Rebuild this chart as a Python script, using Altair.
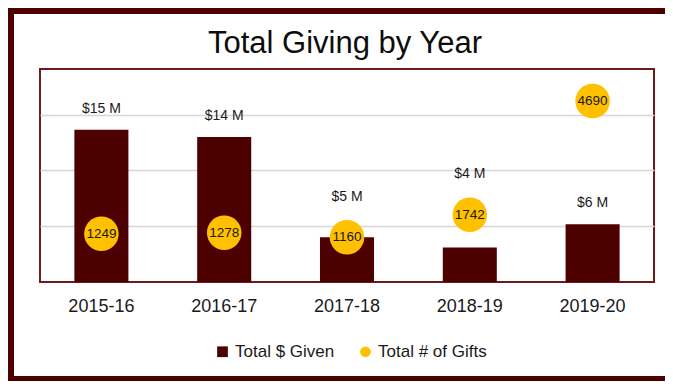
import altair as alt
import pandas as pd

# ---- data ----
years = ["2015-16", "2016-17", "2017-18", "2018-19", "2019-20"]
given_musd = [15.0, 14.3, 4.4, 3.4, 5.7]          # bar heights, $ millions
given_labels = ["$15 M", "$14 M", "$5 M", "$4 M", "$6 M"]
gift_counts = [1249, 1278, 1160, 1742, 4690]
series_names = ["Total $ Given", "Total # of Gifts"]

# ---- layout / style ----
PLOT_W, PLOT_H = 614, 213
GIVEN_MAX = 21.0
GIFTS_MAX = 5520.0
GRID_VALUES = [5.5, 11.0, 16.5]
CIRCLE_D = 39
MAROON = "#4D0000"
GOLD = "#FFC000"
FRAME = "#6E1A1A"
TEXT = "#1A1A1A"
SANS = "Liberation Sans, Arial"

# place value labels above the bar, or above the circle when they would collide
px_given = PLOT_H / GIVEN_MAX
px_gifts = PLOT_H / GIFTS_MAX
GAP = 21
r = CIRCLE_D / 2
label_pos = []
for v, g in zip(given_musd, gift_counts):
    lab = v * px_given + GAP
    c = g * px_gifts
    if abs(lab - c) < r + 8:
        lab = c + r + GAP
    label_pos.append(lab / px_given)

df = pd.DataFrame({
    "year": years,
    "given": given_musd,
    "given_label": given_labels,
    "gifts": gift_counts,
    "gift_label": [str(g) for g in gift_counts],
    "label_y": label_pos,
    "s_given": series_names[0],
    "s_gifts": series_names[1],
})

x_enc = alt.X(
    "year:N", sort=years, title=None,
    scale=alt.Scale(paddingInner=0.56, paddingOuter=0.28),
    axis=alt.Axis(labelFont=SANS, labelFontSize=18, labelColor=TEXT,
                  labelPadding=15, domain=False, ticks=False, labelAngle=0,
                  grid=False),
)
color_scale = alt.Scale(domain=series_names, range=[MAROON, GOLD])
shape_scale = alt.Scale(domain=series_names, range=["square", "circle"])
given_scale = alt.Scale(domain=[0, GIVEN_MAX], nice=False, zero=True)
gifts_scale = alt.Scale(domain=[0, GIFTS_MAX], nice=False, zero=True)

legend = alt.Legend(
    title=None, orient="none", legendX=174, legendY=274, direction="horizontal",
    symbolSize=115, labelFont=SANS, labelFontSize=17, labelColor=TEXT,
    columnPadding=22, labelOffset=4, padding=0, symbolStrokeWidth=0,
)

base = alt.Chart(df)

bars = base.mark_bar(color=MAROON).encode(
    x=x_enc,
    y=alt.Y("given:Q", scale=given_scale,
            axis=alt.Axis(values=GRID_VALUES, labels=False, ticks=False,
                          domain=False, grid=True, gridColor="#D6D6D6",
                          gridWidth=1.5, title=None)),
    color=alt.Color("s_given:N", scale=color_scale, legend=legend),
)

bar_labels = base.mark_text(font=SANS, fontSize=14, color=TEXT,
                            baseline="middle").encode(
    x=x_enc,
    y=alt.Y("label_y:Q", scale=given_scale, axis=None),
    text="given_label:N",
)

circles = base.mark_point(filled=True, size=3.1416 * r * r, opacity=1,
                          strokeWidth=0).encode(
    x=x_enc,
    y=alt.Y("gifts:Q", scale=gifts_scale, axis=None),
    color=alt.Color("s_gifts:N", scale=color_scale, legend=legend),
    shape=alt.Shape("s_gifts:N", scale=shape_scale, legend=legend),
)

circle_labels = base.mark_text(font=SANS, fontSize=13.5, color=TEXT,
                               baseline="middle").encode(
    x=x_enc,
    y=alt.Y("gifts:Q", scale=gifts_scale, axis=None),
    text="gift_label:N",
)

frame_src = alt.Chart(alt.Data(values=[{"k": 0}]))
left_border = frame_src.mark_rule(color=MAROON, strokeWidth=6).encode(
    x=alt.value(-29), y=alt.value(-61), y2=alt.value(312))
top_border = frame_src.mark_rule(color=MAROON, strokeWidth=6).encode(
    x=alt.value(-32), x2=alt.value(625), y=alt.value(-58))
bottom_border = frame_src.mark_rule(color=MAROON, strokeWidth=5).encode(
    x=alt.value(-32), x2=alt.value(625), y=alt.value(309.5))

chart = alt.layer(
    bars, bar_labels, circles, circle_labels,
    left_border, top_border, bottom_border,
).resolve_scale(y="independent").properties(
    width=PLOT_W, height=PLOT_H,
    title=alt.TitleParams("Total Giving by Year", font=SANS, fontSize=31,
                          fontWeight="normal", color="#0D0D0D", offset=9,
                          anchor="middle", dx=-2, dy=64),
    autosize=alt.AutoSizeParams(type="none"),
    padding={"left": 32, "top": 61, "right": 11, "bottom": 99},
    background="white",
).configure_view(stroke=FRAME, strokeWidth=2)

chart.save("out.html", embed_options={"renderer": "svg", "actions": False})
